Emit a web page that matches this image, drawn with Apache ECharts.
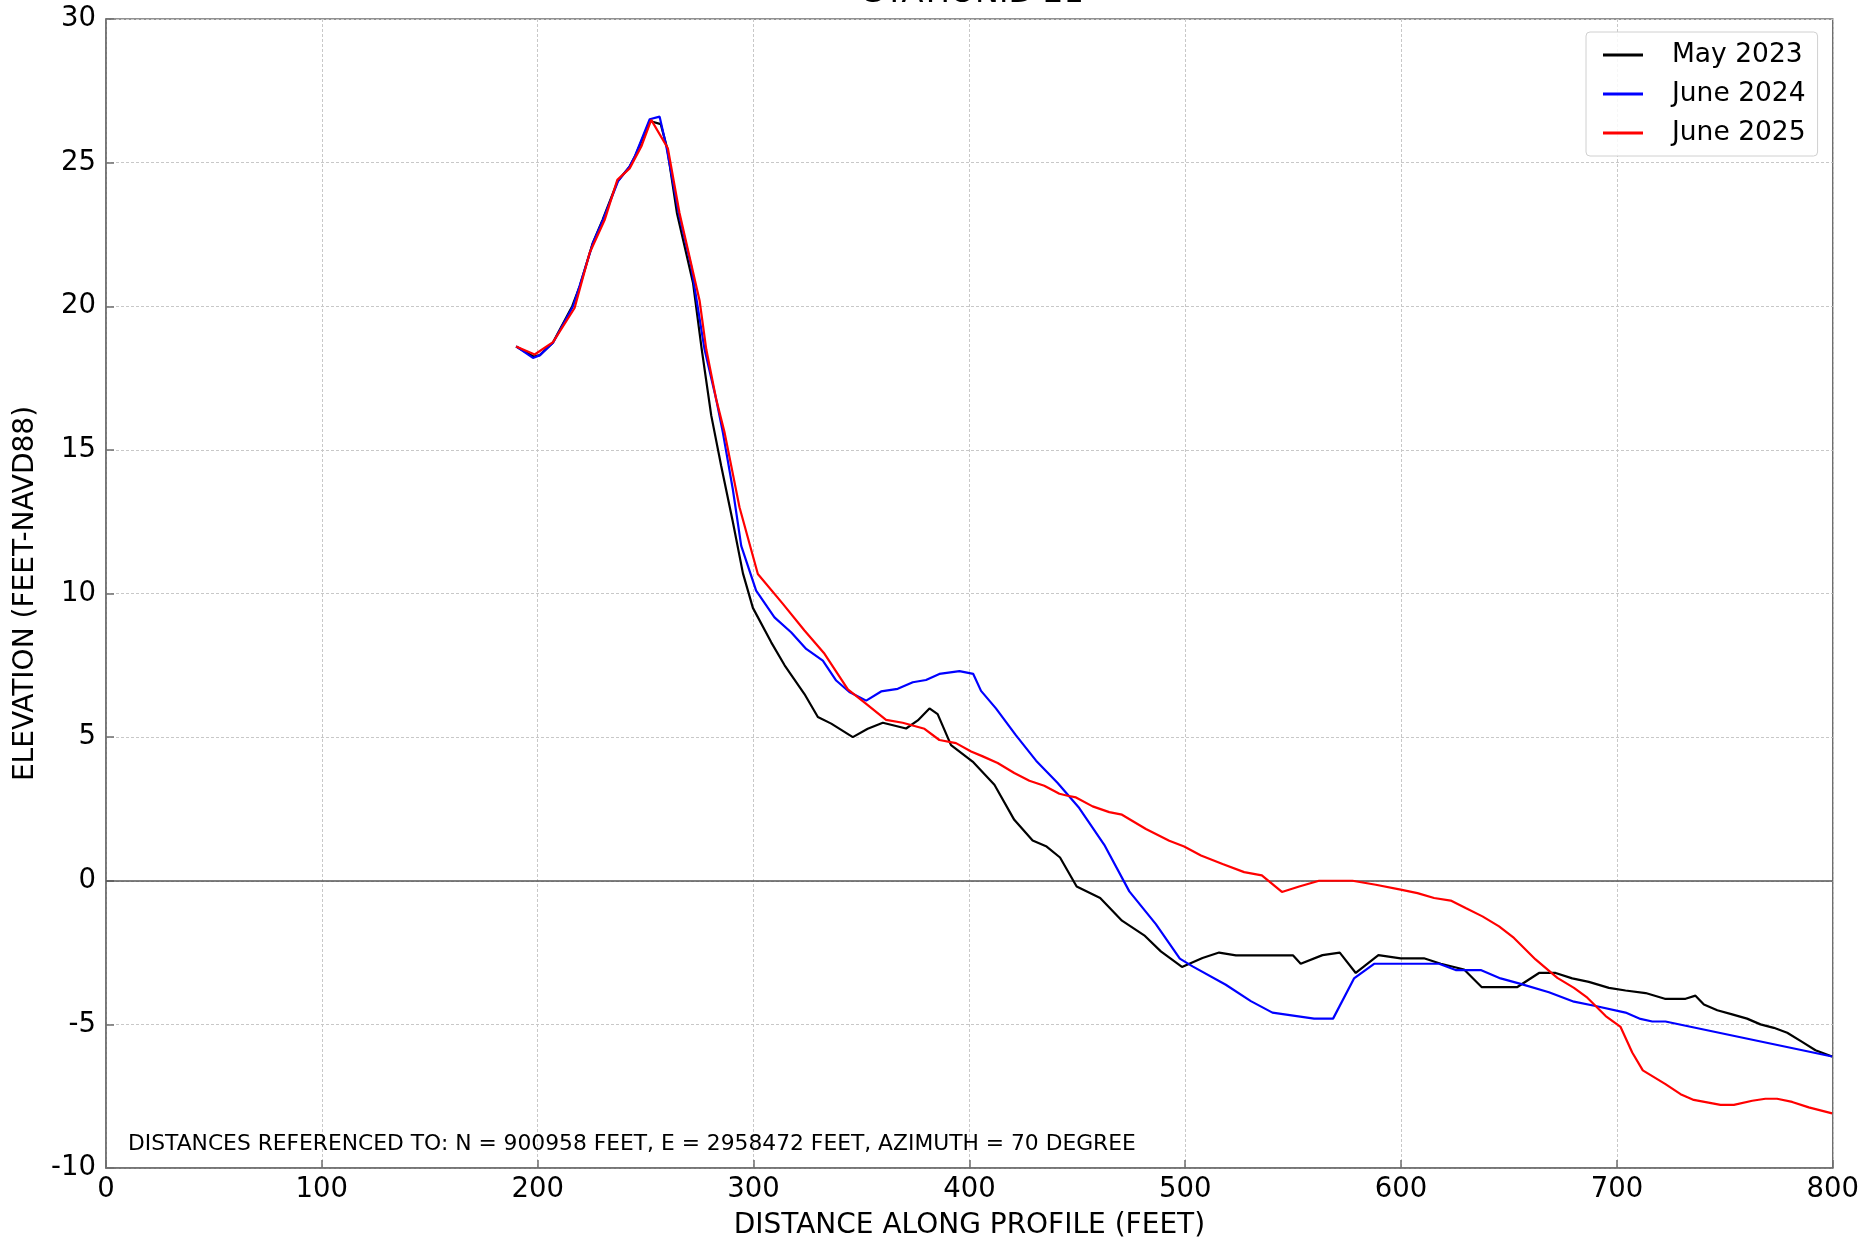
<!DOCTYPE html>
<html>
<head>
<meta charset="utf-8">
<script src="https://cdn.jsdelivr.net/npm/echarts@6/dist/echarts.min.js"></script>
<style>
html,body{margin:0;padding:0;background:#fff;}
#chart{width:1862px;height:1245px;}
</style>
</head>
<body>
<div id="chart"></div>
<script>
const seriesNames = ['May 2023', 'June 2024', 'June 2025'];

const may2023X = [190,198,201,207,216,219.5,225.5,230,237,242.5,245,252,257,260,264.5,272,276,280.4,285,290.4,295.1,299.7,308.2,314.4,323.6,329.8,336,346,352.9,359.9,370.7,376.1,381.5,385.3,391.5,401.5,411.6,420.8,429.3,435.8,442,449.7,460.6,470.7,481,488.7,498.5,508,515.7,523.5,550,553.5,563.6,571.6,579,589.5,599.8,610.6,618.4,629.2,637.3,653.9,663.9,671.6,679.3,687,696.3,704,713.3,722.2,731.8,736.4,740.3,746.5,753.4,760.3,766.5,772.7,778.9,785.8,792,799.7];
const may2023Y = [18.6,18.25,18.3,18.73,20.0,20.7,22.2,23.0,24.35,24.85,25.2,26.45,26.34,25.5,23.25,20.8,18.5,16.2,14.45,12.5,10.7,9.5,8.3,7.5,6.5,5.7,5.47,5.0,5.29,5.5,5.3,5.58,6.0,5.8,4.72,4.15,3.34,2.12,1.40,1.19,0.81,-0.2,-0.6,-1.39,-1.9,-2.46,-3.0,-2.69,-2.5,-2.6,-2.6,-2.89,-2.59,-2.5,-3.21,-2.59,-2.7,-2.7,-2.89,-3.09,-3.7,-3.7,-3.21,-3.21,-3.4,-3.52,-3.73,-3.82,-3.91,-4.11,-4.11,-4.0,-4.31,-4.51,-4.65,-4.8,-5.0,-5.12,-5.29,-5.61,-5.9,-6.12];

const june2024X = [190,197.8,200.9,207.1,216.4,219.4,225.6,230.2,237.2,242.6,244.9,251.9,256.5,259.6,265.3,271.1,277.3,282.7,285.8,290.4,294.3,301.2,309.7,317.4,324.4,332.1,338.3,344.4,352.2,359.1,366.8,373.8,379.9,386.1,395.4,401.8,405.4,412.3,421.6,430.9,440.9,450.9,462.5,474.1,486.4,497.5,503.4,518.8,530.4,540.4,559.7,568.5,578.2,587.5,617.6,625.3,636.9,646.1,655.4,668.5,680.1,690.1,704,710.9,716.4,722.5,799.7];
const june2024Y = [18.6,18.2,18.29,18.73,20.0,20.7,22.2,23.0,24.35,24.87,25.2,26.51,26.6,25.56,23.25,21.4,18.5,16.76,15.6,13.63,11.66,10.1,9.17,8.65,8.07,7.66,6.97,6.57,6.27,6.59,6.68,6.91,6.99,7.2,7.3,7.2,6.61,6.0,5.06,4.18,3.40,2.53,1.25,-0.37,-1.51,-2.71,-2.98,-3.62,-4.19,-4.59,-4.8,-4.8,-3.4,-2.89,-2.89,-3.11,-3.11,-3.4,-3.59,-3.88,-4.21,-4.36,-4.59,-4.81,-4.9,-4.9,-6.12];

const june2025X = [190,198.6,207.1,217.1,224.1,231,236.9,242.6,248,252.6,260.3,265.7,275,278.1,282.7,286.6,293.5,302,313.6,323.6,332.9,343.7,352.2,361.4,369.1,379.2,386.1,393.8,400.8,406.2,413.1,420.8,427.8,434.7,441.7,445.5,449.4,457.1,464.8,470.7,481.8,492.6,499.5,507.3,517.3,527.3,535.5,544.8,552.8,562,577.5,588.3,599.8,607.6,615.3,623,629.9,637.7,645.4,652.3,662.3,672.4,680.1,686.3,694.8,701.7,707.1,712,722.5,729.5,735.6,748,754.2,762.7,768.8,774.2,781.2,788.9,799.7];
const june2025Y = [18.6,18.32,18.75,19.94,21.86,23.0,24.4,24.8,25.56,26.49,25.5,23.25,20.2,18.5,16.76,15.6,13.0,10.68,9.64,8.71,7.9,6.66,6.16,5.6,5.5,5.29,4.9,4.79,4.5,4.33,4.1,3.75,3.48,3.31,3.03,2.96,2.9,2.59,2.39,2.3,1.8,1.39,1.19,0.88,0.58,0.3,0.19,-0.39,-0.2,0.0,0.0,-0.14,-0.31,-0.43,-0.6,-0.69,-0.95,-1.24,-1.59,-1.99,-2.74,-3.38,-3.73,-4.07,-4.71,-5.09,-5.98,-6.6,-7.08,-7.43,-7.63,-7.8,-7.8,-7.66,-7.59,-7.59,-7.7,-7.89,-8.1];

const xTicks = [0,100,200,300,400,500,600,700,800];
const yTicks = [-10,-5,0,5,10,15,20,25,30];
const titleText = 'STATIONID 21';
const noteText = 'DISTANCES REFERENCED TO: N = 900958 FEET, E = 2958472 FEET, AZIMUTH = 70 DEGREE';
const xName = 'DISTANCE ALONG PROFILE (FEET)';
const yName = 'ELEVATION (FEET-NAVD88)';

const zip = (xs, ys) => xs.map((x, i) => [x, ys[i]]);
const colors = ['#000000', '#0000ff', '#ff0000'];
const FONT = 'DejaVu Sans';

const chart = echarts.init(document.getElementById('chart'), null, {renderer: 'canvas'});
const axisColor = '#6e6e6e';
const split = {show: true, lineStyle: {color: '#c8c8c8', width: 1, type: [3, 2]}};

const option = {
  animation: false,
  backgroundColor: '#ffffff',
  textStyle: {fontFamily: FONT},
  grid: {left: 106, right: 28, top: 19, bottom: 75, show: true, borderColor: axisColor, borderWidth: 1.5, backgroundColor: 'transparent'},
  graphic: [
    {type: 'text', x: 974, y: -22, style: {text: titleText, font: '32px "DejaVu Sans"', fill: '#000', align: 'center', verticalAlign: 'top'}},
    {type: 'text', left: 128, top: 1133, style: {text: noteText, font: '21.8px "DejaVu Sans"', fill: '#000'}, z: 100}
  ],
  legend: {
    orient: 'vertical', left: 1586, top: 32,
    data: seriesNames,
    icon: 'rect', itemWidth: 40, itemHeight: 3, itemGap: 11,
    padding: [9, 12, 9, 17],
    borderColor: '#d0d0d0', borderWidth: 1, borderRadius: 4,
    backgroundColor: 'rgba(255,255,255,0.85)',
    textStyle: {fontFamily: FONT, fontSize: 26.5, color: '#000', padding: [0, 0, 0, 24], lineHeight: 28},
    selectedMode: false
  },
  xAxis: {
    type: 'value', min: xTicks[0], max: xTicks[xTicks.length - 1], interval: 100,
    name: xName, nameLocation: 'middle', nameGap: 44,
    nameTextStyle: {fontFamily: FONT, fontSize: 28, color: '#000'},
    axisLine: {show: true, onZero: false, lineStyle: {color: axisColor, width: 1.5}},
    axisTick: {show: true, inside: true, length: 8, lineStyle: {color: axisColor, width: 1.5}},
    axisLabel: {fontFamily: FONT, fontSize: 27.5, color: '#000', margin: 8},
    splitLine: split
  },
  yAxis: {
    type: 'value', min: yTicks[0], max: yTicks[yTicks.length - 1], interval: 5,
    name: yName, nameLocation: 'middle', nameGap: 66, nameRotate: 90,
    nameTextStyle: {fontFamily: FONT, fontSize: 28, color: '#000'},
    axisLine: {show: true, lineStyle: {color: axisColor, width: 1.5}},
    axisTick: {show: true, inside: true, length: 8, lineStyle: {color: axisColor, width: 1.5}},
    axisLabel: {fontFamily: FONT, fontSize: 27.5, color: '#000', margin: 10},
    splitLine: split
  },
  series: [
    {name: seriesNames[0], type: 'line', data: zip(may2023X, may2023Y), symbol: 'none', lineStyle: {color: colors[0], width: 2.2}, itemStyle: {color: colors[0]}, z: 3,
     markLine: {silent: true, symbol: 'none', label: {show: false}, lineStyle: {color: '#555', width: 1.5, type: 'solid'}, data: [{yAxis: 0}], z: 1}},
    {name: seriesNames[1], type: 'line', data: zip(june2024X, june2024Y), symbol: 'none', lineStyle: {color: colors[1], width: 2.2}, itemStyle: {color: colors[1]}, z: 4},
    {name: seriesNames[2], type: 'line', data: zip(june2025X, june2025Y), symbol: 'none', lineStyle: {color: colors[2], width: 2.2}, itemStyle: {color: colors[2]}, z: 5}
  ]
};
chart.setOption(option);
</script>
</body>
</html>
